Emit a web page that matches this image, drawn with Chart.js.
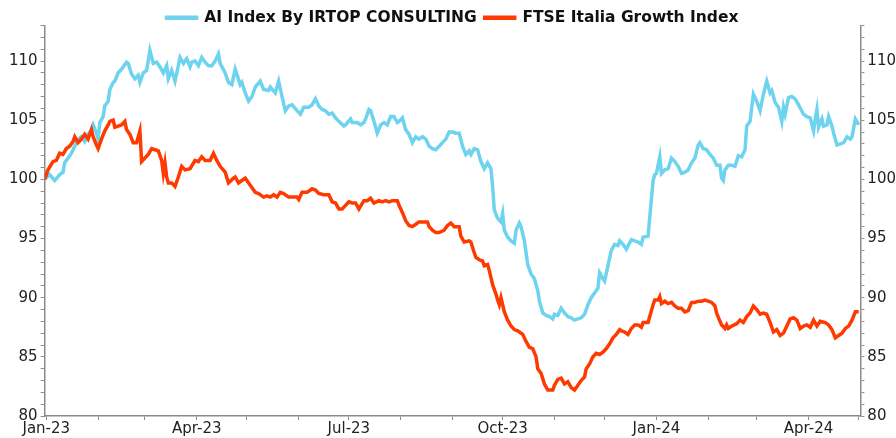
<!DOCTYPE html>
<html>
<head>
<meta charset="utf-8">
<script src="https://cdn.jsdelivr.net/npm/chart.js@4/dist/chart.umd.min.js"></script>
<style>
  html, body { margin: 0; padding: 0; background: #fff; overflow: hidden; }
  .wrap { width: 899px; height: 438px; position: relative; }
</style>
</head>
<body>
<div class="wrap"><canvas id="chart"></canvas></div>
<script>
// x values are days since 1 Jan 2023
const aiDays = [
  -1, 2, 5, 8, 10, 11, 13, 15, 17, 19, 21, 23, 25, 27, 28, 30, 31, 32, 34, 35, 37, 38, 40, 41, 43, 45, 48, 49, 51, 53, 55, 56, 58, 60, 62, 64, 66, 68, 70, 72, 73, 75, 77, 79,
  80, 82, 84, 86, 87, 89, 91, 93, 95, 97, 99, 101, 103, 104, 107, 109, 111, 113, 116, 117, 119, 121, 123, 125, 128, 130, 133, 134, 137, 139, 141, 143, 145, 147, 150, 152, 154, 157, 159,
  161, 163, 165, 167, 169, 171, 173, 175, 178, 179, 182, 183, 186, 188, 190, 191, 193, 194, 196, 198, 200, 202, 204, 206, 208, 210, 211, 213, 215, 217, 219, 221, 223, 225, 227, 229, 231, 233, 235, 237, 239,
  241, 243, 245, 247, 249, 251, 253, 254, 256, 258, 260, 262, 264, 266, 267, 268, 270, 272, 273, 274, 276, 278, 280, 281, 283, 284, 286, 288, 290, 292, 294, 295, 297, 299, 301, 303, 304, 306, 308, 310, 312, 314, 316, 318, 320, 322,
  324, 326, 328, 330, 331, 333, 334, 336, 338, 340, 342, 343, 345, 347, 350, 352, 354, 356, 357, 360, 361, 363, 364, 365, 367, 368, 370, 372, 374, 376, 378, 380, 382, 384, 386, 388, 390, 391, 393, 395, 397, 399, 401, 403, 404,
  405, 406, 408, 410, 412, 414, 416, 418, 419, 421, 423, 425, 427, 429, 431, 433, 434, 436, 438, 440, 441, 442, 444, 446, 448, 450, 453, 455, 457, 459, 460, 461, 462, 464, 465, 467, 468, 470, 471, 473, 475, 477, 479, 481, 482, 484, 486
];
const aiValues = [
  100.0, 100.4, 99.9, 100.4, 100.6, 101.4, 101.8, 102.2, 102.8, 103.4, 103.6, 103.2, 103.8, 104.2, 104.6, 103.9, 103.4, 104.8, 105.3, 106.2, 106.6, 107.6, 108.2, 108.3, 109.0, 109.3, 109.9, 109.8, 108.9, 108.5, 108.8, 108.2, 109.0, 109.2, 110.9, 109.8, 109.9, 109.5, 109.0, 109.6, 108.5, 109.2, 108.3, 109.6,
  110.3, 109.8, 110.2, 109.5, 109.9, 110.0, 109.6, 110.3, 109.9, 109.6, 109.6, 110.0, 110.6, 109.8, 109.0, 108.2, 108.0, 109.3, 108.0, 108.2, 107.3, 106.6, 107.0, 107.8, 108.3, 107.6, 107.5, 107.8, 107.3, 108.3, 107.0, 105.8, 106.2, 106.3, 105.8, 105.5, 106.1, 106.1, 106.3,
  106.8, 106.2, 105.9, 105.8, 105.5, 105.6, 105.2, 104.9, 104.5, 104.6, 105.1, 104.8, 104.8, 104.6, 104.8, 105.1, 105.9, 105.8, 104.9, 103.9, 104.6, 104.8, 104.6, 105.3, 105.3, 104.8, 104.9, 105.2, 104.2, 103.8, 103.1, 103.6, 103.4, 103.6, 103.4, 102.8, 102.6, 102.5, 102.8, 103.1, 103.4,
  104.0, 104.0, 103.9, 103.9, 102.8, 102.1, 102.4, 102.1, 102.6, 102.5, 101.5, 100.9, 101.4, 100.9, 99.4, 97.4, 96.7, 96.4, 97.1, 95.7, 95.1, 94.8, 94.6, 95.7, 96.3, 96.0, 94.8, 92.8, 92.0, 91.6, 90.6, 89.7, 88.7, 88.5, 88.4, 88.2, 88.6, 88.5, 89.1, 88.7, 88.4, 88.3, 88.1, 88.2, 88.3, 88.6,
  89.4, 90.0, 90.4, 90.8, 92.1, 91.6, 91.4, 92.7, 94.0, 94.5, 94.4, 94.8, 94.5, 94.1, 94.9, 94.8, 94.7, 94.5, 95.1, 95.2, 96.8, 99.9, 100.4, 100.5, 101.9, 100.5, 100.8, 100.9, 101.8, 101.5, 101.1, 100.5, 100.6, 100.8, 101.4, 101.8, 102.9, 103.1, 102.6, 102.5, 102.1, 101.8, 101.2, 101.2, 100.1,
  99.9, 100.8, 101.2, 101.2, 101.1, 102.0, 101.9, 102.5, 104.5, 104.9, 107.2, 106.6, 105.8, 107.2, 108.3, 107.3, 107.5, 106.5, 106.1, 104.9, 106.1, 105.5, 106.9, 107.0, 106.8, 106.3, 105.5, 105.3, 105.2, 104.1, 105.1, 105.9, 104.4, 105.1, 104.5, 104.6, 105.3, 104.5, 103.9, 102.9, 103.0, 103.1, 103.6, 103.4, 103.6, 105.1, 104.6
];

const ftseDays = [
  -1, 1, 4, 6, 8, 10, 12, 14, 16, 17, 19, 21, 23, 25, 27, 28, 30, 31, 33, 35, 37, 38, 40, 41, 43, 45, 47, 48, 50, 52, 54, 56, 57, 59, 61, 63, 65, 67, 69, 70, 71, 72, 73, 75, 77, 79,
  81, 83, 86, 89, 91, 93, 95, 98, 100, 102, 104, 107, 109, 112, 113, 115, 117, 119, 122, 125, 127, 130, 132, 134, 136, 138, 140, 142, 145, 147, 150, 151, 153, 156, 158, 159,
  161, 163, 166, 169, 171, 173, 175, 177, 179, 181, 183, 185, 187, 190, 192, 194, 196, 199, 201, 203, 205, 207, 210, 211, 213, 215, 217, 219, 221, 223, 225, 228, 229, 231, 233, 235, 238, 240,
  242, 244, 247, 248, 250, 253, 254, 256, 257, 259, 261, 262, 264, 265, 267, 269, 270, 271, 272, 274, 276, 278, 280, 282, 283, 285, 287, 289, 291, 293, 294, 296, 298, 300, 303, 304, 306, 308, 310, 312, 314, 316, 318, 320, 322,
  323, 325, 327, 329, 331, 333, 335, 337, 339, 341, 343, 344, 346, 348, 350, 352, 354, 356, 357, 360, 361, 363, 364, 366, 367, 368, 370, 372, 374, 376, 378, 380, 382, 384, 386, 388, 390, 392, 394, 396, 398, 400, 401, 403, 404,
  406, 407, 408, 410, 413, 415, 417, 419, 421, 423, 425, 427, 429, 431, 433, 435, 437, 439, 441, 443, 445, 447, 449, 451, 453, 455, 457, 459, 461, 463, 466, 468, 470, 472, 474, 476, 478, 480, 482, 484, 486
];
const ftseValues = [
  100.0, 100.8, 101.5, 101.6, 102.2, 102.1, 102.6, 102.8, 103.2, 103.6, 103.1, 103.4, 103.8, 103.4, 104.2, 103.6, 102.9, 102.6, 103.4, 104.1, 104.6, 104.9, 105.0, 104.4, 104.5, 104.6, 104.9, 104.2, 103.8, 103.1, 103.1, 104.1, 101.5, 101.8, 102.1, 102.6, 102.5, 102.4, 101.6, 100.5, 101.4, 100.2, 99.7, 99.7, 99.4, 100.2,
  101.1, 100.8, 100.9, 101.6, 101.5, 101.9, 101.6, 101.6, 102.2, 101.6, 101.1, 100.6, 99.7, 100.1, 100.2, 99.7, 99.9, 100.1, 99.5, 98.9, 98.8, 98.5, 98.6, 98.5, 98.7, 98.5, 98.9, 98.8, 98.5, 98.5, 98.5, 98.3, 98.9, 98.9, 99.1, 99.2,
  99.1, 98.8, 98.7, 98.7, 98.1, 98.0, 97.5, 97.5, 97.8, 98.1, 98.0, 98.0, 97.5, 98.2, 98.2, 98.4, 98.0, 98.2, 98.1, 98.2, 98.1, 98.2, 98.2, 97.8, 97.2, 96.5, 96.1, 96.0, 96.2, 96.4, 96.4, 96.4, 96.0, 95.7, 95.5, 95.5, 95.7, 96.1,
  96.3, 96.0, 96.0, 95.2, 94.7, 94.8, 94.7, 93.8, 93.4, 93.2, 93.1, 92.7, 92.8, 92.3, 91.1, 90.3, 89.8, 89.4, 90.0, 88.8, 88.1, 87.6, 87.3, 87.2, 87.1, 86.9, 86.3, 85.8, 85.7, 85.0, 84.0, 83.6, 82.7, 82.2, 82.2, 82.6, 83.1, 83.2, 82.7, 82.9, 82.4, 82.2, 82.6, 83.0, 83.3,
  84.0, 84.4, 85.0, 85.3, 85.2, 85.4, 85.7, 86.1, 86.6, 86.9, 87.3, 87.2, 87.1, 86.9, 87.4, 87.7, 87.7, 87.5, 87.9, 87.9, 88.4, 89.4, 89.8, 89.8, 90.1, 89.5, 89.7, 89.5, 89.6, 89.3, 89.1, 89.1, 88.8, 88.9, 89.6, 89.6, 89.7, 89.7, 89.8, 89.7, 89.6, 89.3, 88.7, 88.0, 87.7,
  87.4, 87.7, 87.4, 87.6, 87.8, 88.1, 87.9, 88.4, 88.7, 89.3, 89.0, 88.6, 88.7, 88.6, 87.9, 87.1, 87.3, 86.8, 87.0, 87.6, 88.2, 88.3, 88.1, 87.4, 87.6, 87.7, 87.5, 88.1, 87.6, 88.0, 87.9, 87.7, 87.3, 86.6, 86.8, 87.0, 87.4, 87.6, 88.1, 88.8, 88.8
];

const quarterLabels = { 0: "Jan-23", 90: "Apr-23", 181: "Jul-23", 273: "Oct-23", 365: "Jan-24", 456: "Apr-24" };
const seriesNames = ["AI Index By IRTOP CONSULTING", "FTSE Italia Growth Index"];

// month starts as day offsets, for the small ticks on the date axis
const start = new Date(2023, 0, 1);
const monthTicks = [];
for (let m = 0; m < 17; m++) {
  monthTicks.push(Math.round((new Date(2023, m, 1) - start) / 86400000));
}

const axisColor = "#8c8c8c";
const font = "'DejaVu Sans', sans-serif";

const toPoints = (xs, ys) => xs.map((x, i) => ({ x: x, y: ys[i] }));

const yTicks = (scale) => {
  const t = [];
  for (let v = 80; v <= 113; v++) t.push({ value: v });
  scale.ticks = t;
};

const yAxis = (pos) => ({
  type: "linear",
  position: pos,
  min: 80,
  max: 113,
  afterBuildTicks: yTicks,
  grid: { drawOnChartArea: false, drawTicks: true, tickLength: 4, color: axisColor },
  border: { color: axisColor, width: 1.5 },
  ticks: {
    autoSkip: false,
    padding: 3,
    color: "#222",
    font: { family: font, size: 15 },
    callback: (v) => (v % 5 === 0 ? v : ""),
  },
});

// pull the plot up closer to the legend
const legendGap = {
  id: "legendGap",
  beforeInit(chart) {
    const fit = chart.legend.fit;
    chart.legend.fit = function () {
      fit.bind(chart.legend)();
      this.height -= 10;
    };
  },
};

new Chart(document.getElementById("chart"), {
  type: "line",
  data: {
    datasets: [
      {
        label: seriesNames[0],
        data: toPoints(aiDays, aiValues),
        borderColor: "#6dd3ee",
        backgroundColor: "#6dd3ee",
        borderWidth: 3.5,
        pointRadius: 0,
        order: 1,
      },
      {
        label: seriesNames[1],
        data: toPoints(ftseDays, ftseValues),
        borderColor: "#ff3a00",
        backgroundColor: "#ff3a00",
        borderWidth: 3.5,
        pointRadius: 0,
        order: 0,
      },
    ],
  },
  options: {
    responsive: true,
    maintainAspectRatio: false,
    animation: false,
    layout: { padding: { left: 6, right: 0, top: 2, bottom: 0 } },
    plugins: {
      tooltip: { enabled: false },
      legend: {
        position: "top",
        labels: {
          boxWidth: 30,
          boxHeight: 1,
          padding: 8,
          color: "#111",
          font: { family: font, size: 15.5, weight: "bold" },
          sort: (a, b) => a.datasetIndex - b.datasetIndex,
        },
      },
    },
    scales: {
      x: {
        type: "linear",
        min: -1,
        max: 487,
        afterBuildTicks: (scale) => {
          scale.ticks = monthTicks.filter((d) => d <= 487).map((d) => ({ value: d }));
        },
        grid: { drawOnChartArea: false, drawTicks: true, tickLength: 4, color: axisColor },
        border: { color: axisColor, width: 1.5 },
        ticks: {
          autoSkip: false,
          maxRotation: 0,
          padding: 0,
          color: "#222",
          font: { family: font, size: 15 },
          callback: (v) => quarterLabels[v] || "",
        },
      },
      y: yAxis("left"),
      y2: yAxis("right"),
    },
  },
  plugins: [legendGap],
});
</script>
</body>
</html>
